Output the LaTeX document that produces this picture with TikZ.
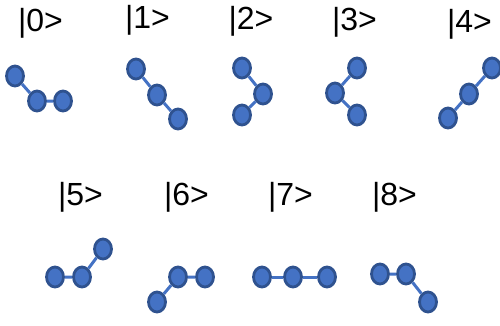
\documentclass[tikz,border=0pt]{standalone}
\usepackage{fontspec}
\setmainfont{Liberation Sans}
\usetikzlibrary{shapes.geometric}
\definecolor{ballfill}{HTML}{4472C4}
\definecolor{balledge}{HTML}{2F528F}
\definecolor{bond}{HTML}{4472C4}
\tikzset{
  ball/.style={ellipse, draw=balledge, fill=ballfill, line width=2.8pt,
    minimum width=17pt, minimum height=20pt, inner sep=0pt},
  bondline/.style={draw=bond, line width=3pt},
  lbl/.style={anchor=base, inner sep=0pt, font=\fontsize{32}{36}\selectfont}
}
\begin{document}
\begin{tikzpicture}[x=1pt, y=-1pt]
\useasboundingbox (0,0) rectangle (500,325);
% labels
\node[lbl] (l0) at (40.5,31) {|0>};
\node[lbl] (l1) at (147.5,28) {|1>};
\node[lbl] (l2) at (251,29) {|2>};
\node[lbl] (l3) at (354.5,30) {|3>};
\node[lbl] (l4) at (469.5,32) {|4>};
\node[lbl] (l5) at (80.5,205) {|5>};
\node[lbl] (l6) at (186.5,205) {|6>};
\node[lbl] (l7) at (290.5,205) {|7>};
\node[lbl] (l8) at (394.5,205) {|8>};
% |0>
\node[ball] (a1) at (15,76) {};
\node[ball] (a2) at (37,101) {};
\node[ball] (a3) at (63,101) {};
\draw[bondline] (a1) -- (a2) (a2) -- (a3);
% |1>
\node[ball] (b1) at (136,69) {};
\node[ball] (b2) at (157,95) {};
\node[ball] (b3) at (178,119) {};
\draw[bondline] (b1) -- (b2) (b2) -- (b3);
% |2>
\node[ball] (c1) at (242,68) {};
\node[ball] (c2) at (263,94) {};
\node[ball] (c3) at (242,115) {};
\draw[bondline] (c1) -- (c2) (c2) -- (c3);
% |3>
\node[ball] (d1) at (357,68) {};
\node[ball] (d2) at (335,93) {};
\node[ball] (d3) at (357,115) {};
\draw[bondline] (d1) -- (d2) (d2) -- (d3);
% |4>
\node[ball] (e1) at (492,68) {};
\node[ball] (e2) at (469,94) {};
\node[ball] (e3) at (448,118) {};
\draw[bondline] (e1) -- (e2) (e2) -- (e3);
% |5>
\node[ball] (f1) at (55,277) {};
\node[ball] (f2) at (82,277) {};
\node[ball] (f3) at (103,249) {};
\draw[bondline] (f1) -- (f2) (f2) -- (f3);
% |6>
\node[ball] (g1) at (157,302) {};
\node[ball] (g2) at (178,277) {};
\node[ball] (g3) at (205,277) {};
\draw[bondline] (g1) -- (g2) (g2) -- (g3);
% |7>
\node[ball] (h1) at (262,277) {};
\node[ball] (h2) at (293,277) {};
\node[ball] (h3) at (327,277) {};
\draw[bondline] (h1) -- (h2) (h2) -- (h3);
% |8>
\node[ball] (i1) at (380,274) {};
\node[ball] (i2) at (406,274) {};
\node[ball] (i3) at (428,302) {};
\draw[bondline] (i1) -- (i2) (i2) -- (i3);
\end{tikzpicture}
\end{document}
